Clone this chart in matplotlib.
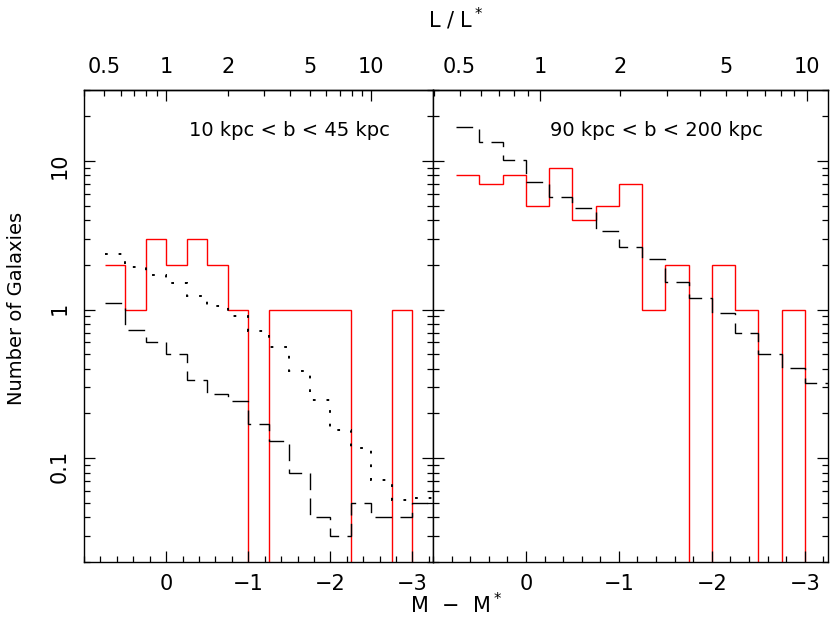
import numpy as np
import matplotlib.pyplot as plt
from matplotlib.ticker import FixedLocator, FuncFormatter, MultipleLocator, NullFormatter, LogLocator

# bin edges in M - M* (0.25 mag bins)
edges = [0.75, 0.5, 0.25, 0.0, -0.25, -0.5, -0.75, -1.0, -1.25, -1.5,
         -1.75, -2.0, -2.25, -2.5, -2.75, -3.0, -3.25]

# 10 kpc < b < 45 kpc
near_red = [2, 1, 3, 2, 3, 2, 1, 0, 1, 1, 1, 1, 0, 0, 1, 0]
near_dash = [1.1, 0.73, 0.60, 0.50, 0.333, 0.27, 0.244, 0.171, 0.13, 0.08,
             0.04, 0.03, 0.05, 0.04, 0.04, 0.05]
near_dot = [2.38, 1.94, 1.72, 1.51, 1.23, 1.06, 0.90, 0.72, 0.56, 0.385,
            0.245, 0.154, 0.117, 0.071, 0.052, 0.054]

# 90 kpc < b < 200 kpc
far_red = [8, 7, 8, 5, 9, 4, 5, 7, 1, 2, 0, 2, 1, 0, 1, 0]
far_dash = [17, 13.3, 10.1, 7.2, 5.7, 4.8, 3.4, 2.64, 2.2, 1.53, 1.19, 0.95,
            0.70, 0.50, 0.405, 0.32]

panel_text = ["10 kpc < b < 45 kpc", "90 kpc < b < 200 kpc"]
x_major = [0, -1, -2, -3]
y_major_labels = [0.1, 1, 10]
top_major = [1, 10]
top_minor = [0.4, 0.5, 0.6, 0.7, 0.8, 0.9, 2, 3, 4, 5, 6, 7, 8, 9]
top_minor_labels = [0.5, 2, 5]

FS = 15
W, H = 830, 630


def clip0(v):
    v = np.asarray(v, dtype=float)
    return np.where(v > 0, v, 1e-4)


def minus_fmt(v, p):
    if v == 0:
        return "0"
    return f"{v:g}".replace("-", "\u2212")


def add_top(ax, m0, slope):
    # L/L* scale along the top of each panel
    fwd = lambda m: 10 ** ((m0 - np.asarray(m, dtype=float)) / slope)
    inv = lambda L: m0 - slope * np.log10(np.clip(np.asarray(L, dtype=float), 1e-6, None))
    sec = ax.secondary_xaxis('top', functions=(fwd, inv))
    sec.xaxis.set_major_locator(FixedLocator(top_major))
    sec.xaxis.set_minor_locator(FixedLocator(top_minor))
    sec.xaxis.set_major_formatter(FuncFormatter(lambda v, p: f"{v:g}"))
    sec.xaxis.set_minor_formatter(
        FuncFormatter(lambda v, p: f"{v:g}" if any(abs(v - t) < 1e-9 for t in top_minor_labels) else ""))
    sec.tick_params(which='both', direction='in', labelsize=FS, pad=9, width=0.9)
    sec.tick_params(which='major', length=8)
    sec.tick_params(which='minor', length=4)
    sec.spines['top'].set_linewidth(1.0)
    return sec


def style(ax, show_ylabels):
    ax.set_yscale('log')
    ax.set_ylim(0.02, 30)
    ax.set_xlim(1.0, -3.25)
    ax.xaxis.set_major_locator(FixedLocator(x_major))
    ax.xaxis.set_minor_locator(MultipleLocator(0.2))
    ax.xaxis.set_major_formatter(FuncFormatter(minus_fmt))
    ax.yaxis.set_major_locator(FixedLocator(y_major_labels))
    ax.yaxis.set_minor_locator(LogLocator(subs=np.arange(2, 10)))
    ax.yaxis.set_major_formatter(FuncFormatter(lambda v, p: f"{v:g}"))
    ax.yaxis.set_minor_formatter(NullFormatter())
    ax.tick_params(which='both', direction='in', top=False, right=True, left=True,
                   labelsize=FS, width=0.9)
    ax.tick_params(which='major', length=8)
    ax.tick_params(which='minor', length=4)
    ax.tick_params(axis='x', pad=9)
    ax.tick_params(axis='y', labelrotation=90, pad=10)
    if not show_ylabels:
        ax.tick_params(axis='y', labelleft=False)
    for s in ax.spines.values():
        s.set_linewidth(1.0)


fig = plt.figure(figsize=(W / 100, H / 100), dpi=100)
ax1 = fig.add_axes([84 / W, 68 / H, 349 / W, 472 / H])
ax2 = fig.add_axes([433 / W, 68 / H, 395 / W, 472 / H])

style(ax1, True)
style(ax2, False)

ax1.stairs(clip0(near_red), edges, baseline=None, color='red', lw=1.0)
ax1.stairs(clip0(near_dash), edges, baseline=None, color='black', lw=1.0,
           linestyle=(0, (12, 6)))
ax1.stairs(clip0(near_dot), edges, baseline=None, color='black', lw=1.4,
           linestyle=(0, (1.4, 5.6)))
ax1.text(-0.28, 16.1, panel_text[0], fontsize=14, ha='left', va='center')

ax2.stairs(clip0(far_red), edges, baseline=None, color='red', lw=1.0)
ax2.stairs(clip0(far_dash), edges, baseline=None, color='black', lw=1.0,
           linestyle=(0, (12, 6)))
ax2.text(-0.26, 16.1, panel_text[1], fontsize=14, ha='left', va='center')

add_top(ax1, 0.0, 2.5)
add_top(ax2, -0.15, 2.87)

fig.text(456 / W, 1 - 605 / H, "M  \u2212  M$^*$", fontsize=FS, ha='center', va='center')
fig.text(456 / W, 1 - 19 / H, "L / L$^*$", fontsize=FS, ha='center', va='center')
fig.text(16 / W, 1 - 308 / H, "Number of Galaxies", fontsize=14, rotation=90,
         ha='center', va='center')

fig.savefig("out.png", dpi=100)
